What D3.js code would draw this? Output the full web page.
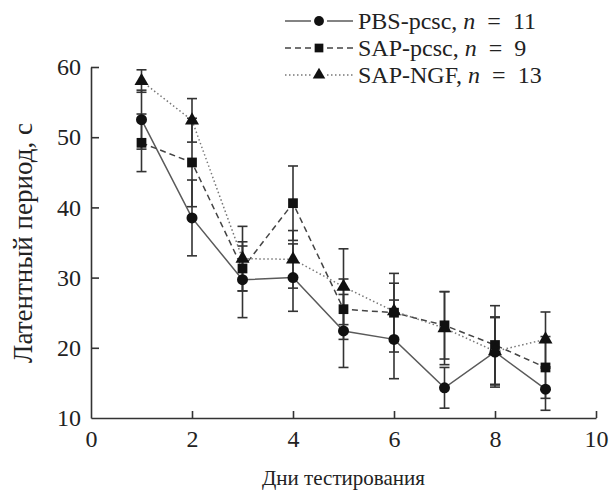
<!DOCTYPE html>
<meta charset="utf-8">
<script src="https://d3js.org/d3.v7.min.js"></script>
<style>
  body { margin: 0; background: #fff; }
  text { font-family: "Liberation Serif", "Times New Roman", serif; fill: #222; }
</style>
<body>
<script>
// days of testing
var days = [1, 2, 3, 4, 5, 6, 7, 8, 9];

// mean latency, s, and error
var pbsMean  = [52.5, 38.5, 29.7, 30.0, 22.4, 21.2, 14.3, 19.4, 14.1];
var pbsErr   = [4.2, 5.4, 5.4, 4.8, 5.2, 5.6, 2.9, 5.0, 3.0];
var sapMean  = [49.2, 46.4, 31.3, 40.6, 25.5, 25.0, 23.2, 20.4, 17.2];
var sapErr   = [4.1, 6.3, 3.2, 5.3, 4.3, 5.6, 4.8, 5.6, 4.4];
var ngfMean  = [58.0, 52.4, 32.7, 32.6, 28.7, 25.2, 22.8, 19.5, 21.2];
var ngfErr   = [1.6, 3.1, 4.6, 4.1, 5.4, 4.0, 5.2, 4.8, 3.9];

var xTicks = [0, 2, 4, 6, 8, 10];
var yTicks = [10, 20, 30, 40, 50, 60];

var series = [
  {name: "PBS-pcsc", n: 11, mean: pbsMean, err: pbsErr, dash: null, color: "#5a5a5a", shape: d3.symbolCircle, size: 95},
  {name: "SAP-pcsc", n: 9, mean: sapMean, err: sapErr, dash: "6,4", color: "#444", shape: d3.symbolSquare, size: 95},
  {name: "SAP-NGF", n: 13, mean: ngfMean, err: ngfErr, dash: "1.5,2.5", color: "#777", shape: d3.symbolTriangle, size: 85}
];

var W = 609, H = 491;
var margin = {left: 91, right: 13, top: 67, bottom: 73};

var svg = d3.select("body").append("svg")
  .attr("width", W).attr("height", H);

var x = d3.scaleLinear().domain([0, 10]).range([margin.left, W - margin.right]);
var y = d3.scaleLinear().domain([10, 60]).range([H - margin.bottom, margin.top]);

// axes
var xAxis = svg.append("g")
  .attr("transform", "translate(0," + y(10) + ")")
  .call(d3.axisBottom(x).tickValues(xTicks).tickSize(-7).tickPadding(12).tickSizeOuter(0));
var yAxis = svg.append("g")
  .attr("transform", "translate(" + x(0) + ",0)")
  .call(d3.axisLeft(y).tickValues(yTicks).tickSize(-8).tickPadding(10).tickSizeOuter(0));

[xAxis, yAxis].forEach(function(g) {
  g.select(".domain").attr("stroke", "#333").attr("stroke-width", 1.6);
  g.selectAll(".tick line").attr("stroke", "#333").attr("stroke-width", 1.6);
  g.selectAll(".tick text").style("font-size", "24px").attr("fill", "#222")
    .style("font-family", "'Liberation Serif', serif");
});
yAxis.selectAll(".tick").filter(function(d) { return d === 10; }).select("line").remove();
xAxis.selectAll(".tick").filter(function(d) { return d === 0; }).select("line").remove();

// axis titles
svg.append("text")
  .attr("x", (x(0) + x(10)) / 2).attr("y", 485)
  .attr("text-anchor", "middle")
  .style("font-size", "21px")
  .text("Дни тестирования");

svg.append("text")
  .attr("transform", "translate(32,243) rotate(-90)")
  .attr("text-anchor", "middle")
  .style("font-size", "27px")
  .text("Латентный период, с");

var line = d3.line()
  .x(function(d) { return x(d[0]); })
  .y(function(d) { return y(d[1]); });

// error bars first
series.forEach(function(s) {
  var g = svg.append("g");
  days.forEach(function(d, i) {
    var lo = s.mean[i] - s.err[i], hi = s.mean[i] + s.err[i];
    g.append("line")
      .attr("x1", x(d)).attr("x2", x(d))
      .attr("y1", y(lo)).attr("y2", y(hi))
      .attr("stroke", "#333").attr("stroke-width", 1.6);
    [lo, hi].forEach(function(v) {
      g.append("line")
        .attr("x1", x(d) - 5).attr("x2", x(d) + 5)
        .attr("y1", y(v)).attr("y2", y(v))
        .attr("stroke", "#333").attr("stroke-width", 1.6);
    });
  });
});

// lines and markers
series.forEach(function(s) {
  var pts = days.map(function(d, i) { return [d, s.mean[i]]; });
  svg.append("path")
    .attr("d", line(pts))
    .attr("fill", "none")
    .attr("stroke", s.color)
    .attr("stroke-width", 1.5)
    .attr("stroke-dasharray", s.dash);
  svg.selectAll(null)
    .data(pts)
    .enter().append("path")
    .attr("d", d3.symbol().type(s.shape).size(s.size))
    .attr("transform", function(d) { return "translate(" + x(d[0]) + "," + y(d[1]) + ")"; })
    .attr("fill", "#111");
});

// legend
var legend = svg.append("g");
series.forEach(function(s, i) {
  var ly = 21 + i * 27;
  var row = legend.append("g").attr("transform", "translate(0," + ly + ")");
  row.append("line").attr("x1", 285).attr("x2", 311).attr("y1", 0).attr("y2", 0)
    .attr("stroke", s.color).attr("stroke-width", 1.5).attr("stroke-dasharray", s.dash);
  row.append("line").attr("x1", 327).attr("x2", 353).attr("y1", 0).attr("y2", 0)
    .attr("stroke", s.color).attr("stroke-width", 1.5).attr("stroke-dasharray", s.dash);
  row.append("path")
    .attr("d", d3.symbol().type(s.shape).size(s.size * 0.8))
    .attr("transform", "translate(319,0)")
    .attr("fill", "#111");
  var t = row.append("text").attr("x", 358).attr("y", 8).style("font-size", "24px")
    .attr("xml:space", "preserve");
  t.append("tspan").text(s.name + ", ");
  t.append("tspan").style("font-style", "italic").text("n");
  t.append("tspan").text("\u2002=\u2002" + s.n);
});
</script>
</body>
